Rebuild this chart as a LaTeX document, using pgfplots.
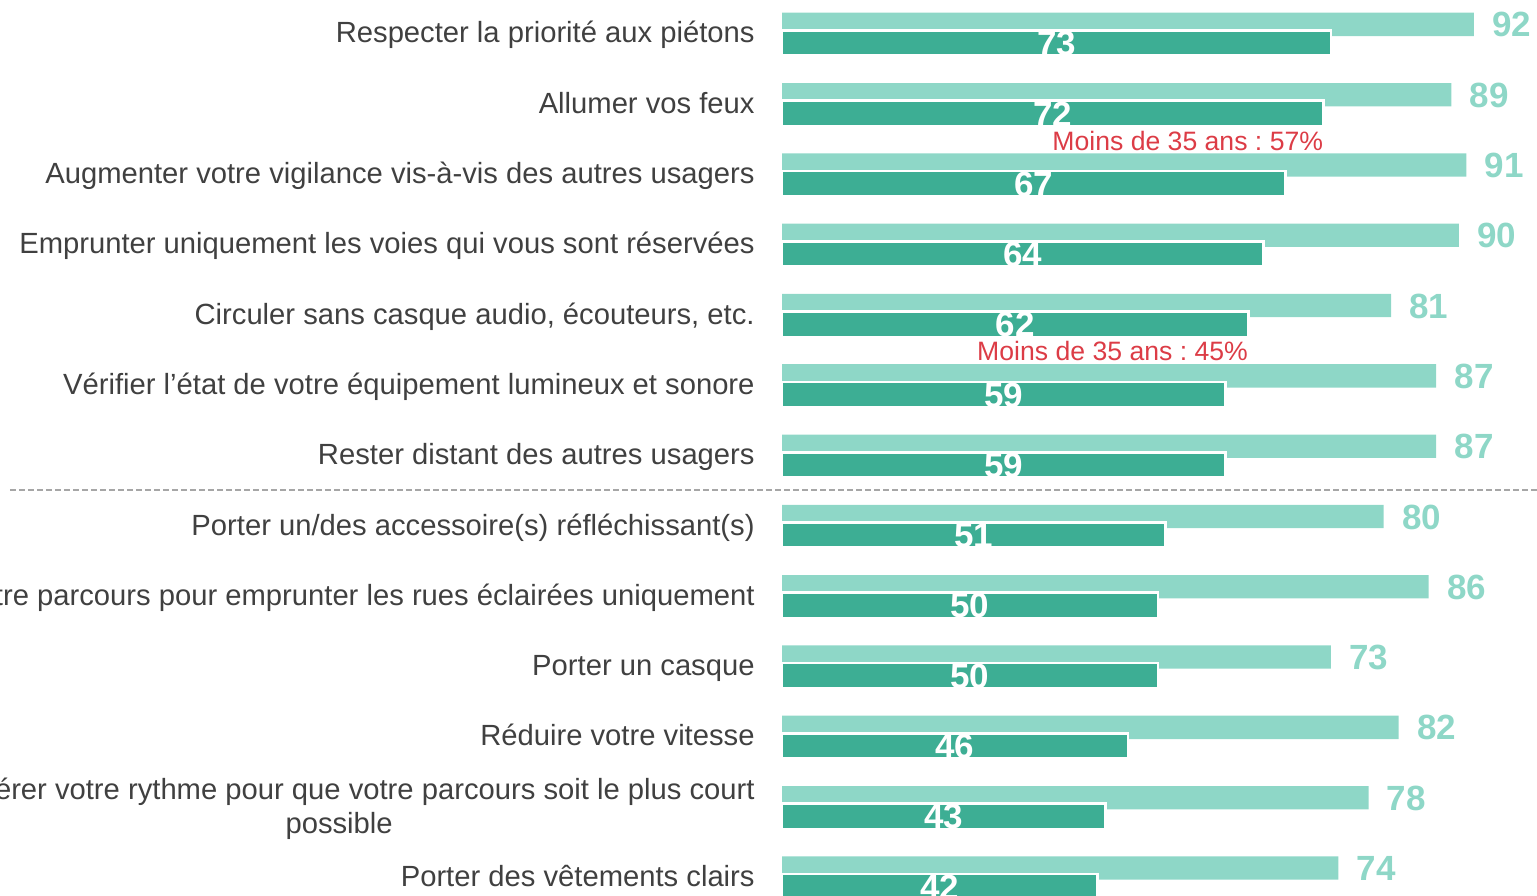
\documentclass[border=0pt]{standalone}
\usepackage{fontspec}
\setmainfont{Liberation Sans}
\usepackage{pgfplots}
\usepackage{pgfplotstable}
\pgfplotsset{compat=1.18}
\frenchspacing
\definecolor{lightbar}{HTML}{8ED7C7}
\definecolor{darkbar}{HTML}{3DAE94}
\definecolor{labgrey}{HTML}{404040}
\definecolor{annred}{HTML}{DC3C46}
\definecolor{sepgrey}{HTML}{A6A6A6}
\pgfplotstableread{
idx light dark
0 92 73
1 89 72
2 91 67
3 90 64
4 81 62
5 87 59
6 87 59
7 80 51
8 86 50
9 73 50
10 82 46
11 78 43
12 74 42
}\datatable
\begin{document}
\begin{tikzpicture}
\begin{axis}[
  scale only axis,
  width=377.5pt, height=447.5pt,
  xmin=0, xmax=100.4,
  ymin=-0.4765, ymax=12.2546,
  y dir=reverse,
  clip=false,
  axis line style={draw=none},
  tick style={draw=none},
  xtick=\empty,
  ytick={0,...,12},
  yticklabels={
    \strut Respecter la priorité aux piétons,
    \strut Allumer vos feux,
    \strut Augmenter votre vigilance vis-à-vis des autres usagers,
    \strut Emprunter uniquement les voies qui vous sont réservées,
    {\strut Circuler sans casque audio, écouteurs, etc.},
    \strut Vérifier l’état de votre équipement lumineux et sonore,
    \strut Rester distant des autres usagers,
    \strut Porter un/des accessoire(s) réfléchissant(s),
    \strut Modifier votre parcours pour emprunter les rues éclairées uniquement,
    \strut Porter un casque,
    \strut Réduire votre vitesse,
    {\strut Accélérer votre rythme pour que votre parcours soit le plus court\\\strut possible},
    \strut Porter des vêtements clairs},
  yticklabel style={font=\fontsize{14.6}{17}\selectfont, text=labgrey, align=center, anchor=east, inner sep=0pt, xshift=-13.5pt, yshift=-1.3pt},
]
\coordinate (SW) at (axis cs:-103.99,12.2546);
\coordinate (NE) at (axis cs:100.4,-0.4765);
% separator
\addplot[sepgrey, line width=1pt, dash pattern=on 3pt off 1.5pt, forget plot] coordinates {(-102.66,6.494) (100.4,6.494)};
% light bars
\addplot[xbar, bar width=11.65pt, bar shift=4.575pt, fill=lightbar, draw=none] table[x=light, y=idx] {\datatable};
% dark bars
\addplot[xbar, bar width=12.65pt, bar shift=-4.75pt, fill=darkbar, draw=white, line width=1.35pt] table[x=dark, y=idx] {\datatable};
% light labels
\addplot[only marks, mark=none, point meta=\thisrow{light},
  nodes near coords, nodes near coords style={anchor=west, inner sep=0pt, xshift=9pt, yshift=4.3pt, text=lightbar, font=\fontsize{17.5}{20}\selectfont\bfseries, /pgf/number format/assume math mode=true}]
  table[x=light, y=idx] {\datatable};
% dark labels
\addplot[only marks, mark=none, point meta=\thisrow{dark},
  nodes near coords, nodes near coords style={anchor=center, inner sep=0pt, yshift=-5pt, text=white, font=\fontsize{17.5}{20}\selectfont\bfseries, /pgf/number format/assume math mode=true}]
  table[x expr=\thisrow{dark}/2, y=idx] {\datatable};
\node[anchor=east, inner sep=0pt, text=annred, font=\fontsize{13.3}{16}\selectfont] at (axis cs:72,1.536) {Moins de 35 ans : 57\%};
\node[anchor=east, inner sep=0pt, text=annred, font=\fontsize{13.3}{16}\selectfont] at (axis cs:62,4.516) {Moins de 35 ans : 45\%};
\end{axis}
\pgfresetboundingbox
\path[use as bounding box] (SW) rectangle (NE);
\end{tikzpicture}
\end{document}
